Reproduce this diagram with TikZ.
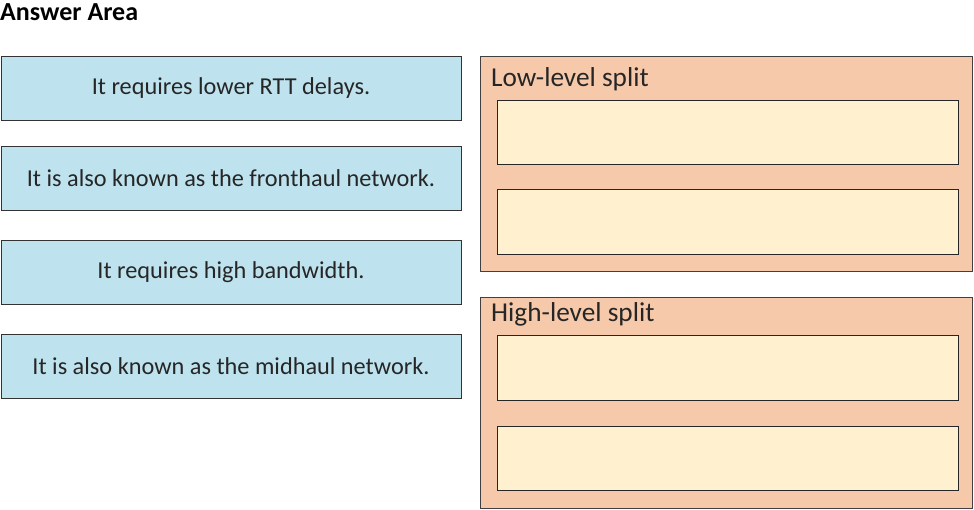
\documentclass[tikz,border=0pt]{standalone}
\usepackage{fontspec}
\setmainfont{Carlito}
\definecolor{bluebox}{HTML}{BEE3EE}
\definecolor{orangebox}{HTML}{F7C9AB}
\definecolor{creambox}{HTML}{FFF1CF}
\begin{document}
\begin{tikzpicture}[x=1pt,y=-1pt,
  itembox/.style={draw=black!80,line width=1pt,fill=bluebox},
  groupbox/.style={draw=black!75,line width=1pt,fill=orangebox},
  slotbox/.style={draw=black!85,line width=1pt,fill=creambox},
  itemtext/.style={font=\fontsize{24.3}{28}\selectfont,text=black!85},
  grouptext/.style={font=\fontsize{27.3}{32}\selectfont,text=black!85,anchor=base west}]
\useasboundingbox (0,0) rectangle (974,509);
\node[anchor=base west,inner sep=0pt,font=\fontsize{26}{30}\selectfont\bfseries] (title) at (0,20) {Answer Area};
% left items
\draw[itembox] (1,56) rectangle (461,120);
\node[itemtext] (i1) at (231,88) {It requires lower RTT delays.};
\draw[itembox] (1,146) rectangle (461,210);
\node[itemtext] (i2) at (231,178) {It is also known as the fronthaul network.};
\draw[itembox] (1,240) rectangle (461,304);
\node[itemtext] (i3) at (231,272) {It requires high bandwidth.};
\draw[itembox] (1,334) rectangle (461,398);
\node[itemtext] (i4) at (231,366) {It is also known as the midhaul network.};
% groups
\draw[groupbox] (480,56) rectangle (972,271);
\node[grouptext,inner sep=0pt] (g1) at (491,86) {Low-level split};
\draw[slotbox] (497,100) rectangle (958,164);
\draw[slotbox] (497,189) rectangle (958,254);
\draw[groupbox] (480,297) rectangle (972,508);
\node[grouptext,inner sep=0pt] (g2) at (491,321) {High-level split};
\draw[slotbox] (497,335) rectangle (958,400);
\draw[slotbox] (497,426) rectangle (958,490);
\end{tikzpicture}
\end{document}
